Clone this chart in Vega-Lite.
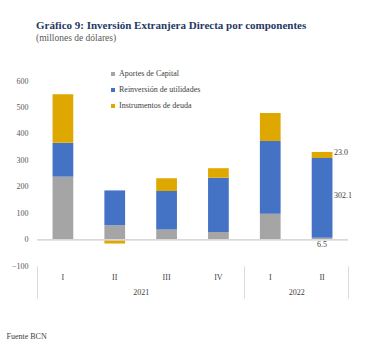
{
  "$schema": "https://vega.github.io/schema/vega-lite/v6.json",
  "width": 311,
  "height": 185,
  "autosize": {"type": "none"},
  "padding": {"left": 37, "top": 81, "right": 18, "bottom": 84},
  "title": {
    "text": "Gráfico 9: Inversión Extranjera Directa por componentes",
    "subtitle": "(millones de dólares)",
    "anchor": "start",
    "frame": "group",
    "font": "Liberation Serif",
    "fontSize": 11,
    "fontWeight": "bold",
    "color": "#1F3864",
    "subtitleFont": "Liberation Serif",
    "subtitleFontSize": 9.5,
    "subtitleColor": "#595959",
    "subtitlePadding": 2,
    "offset": 28,
    "dx": -1
  },
  "data": {
    "values": [
      {"q": "2021-I", "comp": "Aportes de Capital", "k": 1, "value": 238},
      {"q": "2021-I", "comp": "Reinversión de utilidades", "k": 2, "value": 128},
      {"q": "2021-I", "comp": "Instrumentos de deuda", "k": 3, "value": 184},
      {"q": "2021-II", "comp": "Aportes de Capital", "k": 1, "value": 54},
      {"q": "2021-II", "comp": "Reinversión de utilidades", "k": 2, "value": 132},
      {"q": "2021-II", "comp": "Instrumentos de deuda", "k": 3, "value": -15},
      {"q": "2021-III", "comp": "Aportes de Capital", "k": 1, "value": 38},
      {"q": "2021-III", "comp": "Reinversión de utilidades", "k": 2, "value": 146},
      {"q": "2021-III", "comp": "Instrumentos de deuda", "k": 3, "value": 48},
      {"q": "2021-IV", "comp": "Aportes de Capital", "k": 1, "value": 29},
      {"q": "2021-IV", "comp": "Reinversión de utilidades", "k": 2, "value": 205},
      {"q": "2021-IV", "comp": "Instrumentos de deuda", "k": 3, "value": 36},
      {"q": "2022-I", "comp": "Aportes de Capital", "k": 1, "value": 98},
      {"q": "2022-I", "comp": "Reinversión de utilidades", "k": 2, "value": 275},
      {"q": "2022-I", "comp": "Instrumentos de deuda", "k": 3, "value": 106},
      {"q": "2022-II", "comp": "Aportes de Capital", "k": 1, "value": 6.5},
      {"q": "2022-II", "comp": "Reinversión de utilidades", "k": 2, "value": 302.1},
      {"q": "2022-II", "comp": "Instrumentos de deuda", "k": 3, "value": 23.0}
    ]
  },
  "layer": [
    {
      "mark": {"type": "bar", "width": {"band": 0.4}},
      "encoding": {
        "x": {
          "field": "q",
          "type": "nominal",
          "sort": null,
          "scale": {"paddingInner": 0, "paddingOuter": 0},
          "axis": {
            "title": null,
            "ticks": false,
            "domain": false,
            "labelAngle": 0,
            "labelPadding": 7,
            "labelFontSize": 8,
            "labelColor": "#404040",
            "labelExpr": "split(datum.value, '-')[1]"
          }
        },
        "y": {
          "field": "value",
          "type": "quantitative",
          "stack": "zero",
          "scale": {"domain": [-100, 600], "nice": false, "zero": false},
          "axis": {
            "title": null,
            "values": [-100, 0, 100, 200, 300, 400, 500, 600],
            "grid": false,
            "ticks": false,
            "domain": false,
            "labelPadding": 9,
            "labelFontSize": 8,
            "labelColor": "#595959"
          }
        },
        "color": {
          "field": "comp",
          "type": "nominal",
          "scale": {
            "domain": ["Aportes de Capital", "Reinversión de utilidades", "Instrumentos de deuda"],
            "range": ["#A5A5A5", "#4472C4", "#DFA800"]
          },
          "legend": {
            "title": null,
            "orient": "none",
            "legendX": 72,
            "legendY": -11,
            "padding": 0,
            "symbolType": "square",
            "symbolSize": 16,
            "symbolStrokeWidth": 0,
            "labelFontSize": 8,
            "labelColor": "#404040",
            "labelOffset": 2,
            "rowPadding": 8
          }
        },
        "order": {"field": "k", "type": "quantitative"}
      }
    },
    {
      "mark": {"type": "rule", "color": "#D9D9D9", "strokeWidth": 1},
      "encoding": {"y": {"datum": 0, "type": "quantitative", "axis": null}}
    },
    {
      "transform": [{"filter": "datum.q === '2022-II'"}],
      "mark": {"type": "text", "align": "left", "baseline": "middle", "dx": 12, "dy": -2, "fontSize": 8, "color": "#404040", "font": "Liberation Serif"},
      "encoding": {
        "x": {
          "field": "q",
          "type": "nominal",
          "sort": null,
          "axis": {
            "orient": "bottom",
            "title": "Fuente BCN",
            "titleX": -31,
            "titleY": 70,
            "titleAlign": "left",
            "titleAnchor": "start",
            "titleBaseline": "middle",
            "titleFontSize": 8,
            "titleFontWeight": "normal",
            "titleColor": "#404040",
            "domain": false,
            "tickBand": "extent",
            "tickSize": 32,
            "tickColor": "#D9D9D9",
            "tickOpacity": {"condition": {"test": "datum.extra || datum.value === '2021-IV' || datum.value === '2022-II'", "value": 1}, "value": 0},
            "labelAngle": 0,
            "labelPadding": -10,
            "labelOffset": 26,
            "labelFontSize": 8,
            "labelColor": "#404040",
            "labelExpr": "datum.value === '2021-II' ? '2021' : datum.value === '2022-I' ? '2022' : ''"
          }
        },
        "y": {"field": "value", "type": "quantitative", "stack": "zero", "bandPosition": 0.5, "axis": null},
        "detail": {"field": "comp"},
        "order": {"field": "k", "type": "quantitative"},
        "text": {"condition": {"test": "datum.k > 1", "field": "value", "format": ".1f"}, "value": ""}
      }
    },
    {
      "transform": [{"filter": "datum.q === '2022-II' && datum.k === 1"}],
      "mark": {"type": "text", "align": "center", "baseline": "top", "dy": 3, "fontSize": 8, "color": "#404040", "font": "Liberation Serif"},
      "encoding": {
        "x": {"field": "q", "type": "nominal", "sort": null, "axis": null},
        "y": {"field": "value", "type": "quantitative", "axis": null},
        "text": {"field": "value", "type": "quantitative", "format": ".1f"}
      }
    }
  ],
  "resolve": {"axis": {"x": "independent", "y": "independent"}},
  "config": {
    "view": {"stroke": null},
    "font": "Liberation Serif",
    "axis": {"labelFont": "Liberation Serif", "titleFont": "Liberation Serif"},
    "legend": {"labelFont": "Liberation Serif"},
    "text": {"font": "Liberation Serif"}
  }
}
